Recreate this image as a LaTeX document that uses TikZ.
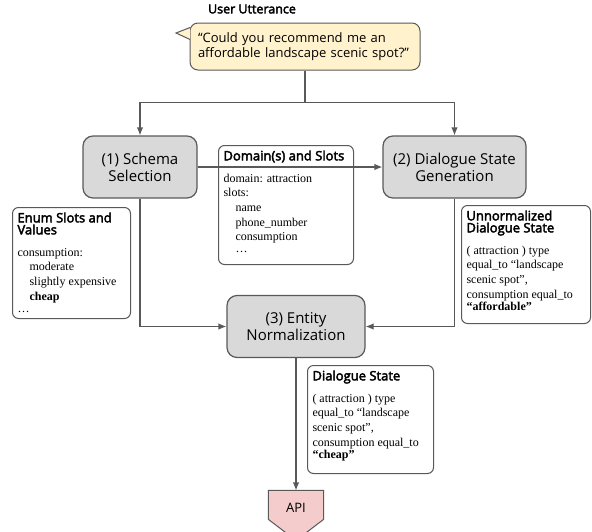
\documentclass[tikz,border=0pt]{standalone}
\usepackage{fontspec}
\setmainfont{Liberation Serif}
\newfontfamily\labelfont{Open Sans}
\newfontfamily\hdrfont{Open Sans}[FakeBold=3]
\usetikzlibrary{arrows.meta}
\usetikzlibrary{calc,backgrounds}
\definecolor{linegray}{HTML}{595959}
\definecolor{boxgray}{HTML}{D9D9D9}
\definecolor{bubblefill}{HTML}{FFF2CC}
\definecolor{apifill}{HTML}{F4CCCC}
\newcommand{\hdr}[1]{{\hdrfont\fontsize{13}{14.5}\selectfont #1}}
\newcommand{\infotext}[4]{\parbox[t][#2][t]{#1}{\raggedright\hdr{#3}\par\vspace{7pt}{\fontsize{12}{14.7}\selectfont #4}}}

\begin{document}
\begin{tikzpicture}[x=1pt,y=-1pt,->,>={Latex[length=8pt,width=6.5pt]},line width=1.2pt,draw=linegray]
\tikzstyle{stage}=[rectangle, rounded corners=10pt, draw=linegray, fill=boxgray, minimum height=62pt, align=center, font=\labelfont\fontsize{15}{17}\selectfont]
\tikzstyle{info}=[rectangle, rounded corners=6pt, draw=linegray, fill=white, anchor=north west, inner sep=5pt, line width=1pt]
\clip (0,0) rectangle (592,531);
% utterance
\node[font=\hdrfont\fontsize{12.5}{14}\selectfont] (title) at (252,9) {User Utterance};
\node[rectangle, rounded corners=8pt, draw=linegray, fill=bubblefill, line width=1pt, minimum width=230pt, minimum height=47pt, text width=214pt, inner xsep=8pt, align=left, font=\labelfont\fontsize{13}{14.5}\selectfont] (utt) at (305,46.5) {“Could you recommend me an\\affordable landscape scenic spot?”};
\path[-, draw=linegray, fill=bubblefill, line width=1pt] ($(utt.north west)+(0.6,5)$) -- (176,33) -- ($(utt.north west)+(0.6,17)$);
% stages
\node[stage, minimum width=114pt] (sel) at (140,167) {(1) Schema\\Selection};
\node[stage, minimum width=143pt] (gen) at (454.5,167) {(2) Dialogue State\\Generation};
\node[stage, minimum width=138pt] (norm) at (296,326.5) {(3) Entity\\Normalization};
% side boxes
\node[info] (slots) at (218,145) {\infotext{125pt}{109pt}{Domain(s) and Slots}{domain: attraction\\slots:\\\hspace*{12pt}name\\\hspace*{12pt}phone\_number\\\hspace*{12pt}consumption\\\hspace*{12pt}\ldots}};
\node[info] (enum) at (12,207) {\infotext{108pt}{101pt}{Enum Slots and\\Values}{consumption:\\\hspace*{12pt}moderate\\\hspace*{12pt}slightly expensive\\\hspace*{12pt}\textbf{cheap}\\\ldots}};
\node[info] (raw) at (461,205) {\infotext{119pt}{108pt}{Unnormalized\\Dialogue State}{( attraction ) type\\equal\_to “landscape\\scenic spot”,\\consumption equal\_to\\\textbf{“affordable”}}};
\node[info] (state) at (307,365) {\infotext{116pt}{98pt}{Dialogue State}{( attraction ) type\\equal\_to “landscape\\scenic spot”,\\consumption equal\_to\\\textbf{“cheap”}}};
% api
\node[minimum width=54pt, minimum height=34pt, inner sep=0pt, font=\labelfont\fontsize{13}{15}\selectfont] (api) at (296,508) {API};
\begin{scope}[on background layer]
\path[-, draw=linegray, fill=apifill, line width=1pt] (api.north west) -- (api.north east) -- ($(api.north east)+(0,29)$) -- ($(api.north)+(0,50)$) -- ($(api.north west)+(0,29)$) -- cycle;
\end{scope}
% connectors
\coordinate (split) at ($(utt.south)+(0,32)$);
\draw[-] (utt.south) -- (split);
\draw (split) -| (sel.north);
\draw (split) -| (gen.north);
\draw (sel.east) -- (gen.west);
\draw (sel.south) |- (norm.west);
\draw (gen.south) |- (norm.east);
\draw (norm.south) -- (api.north);
\end{tikzpicture}
\end{document}
